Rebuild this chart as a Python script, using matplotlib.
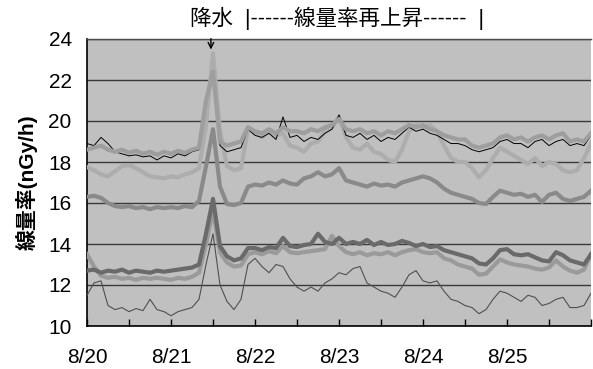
import numpy as np
import matplotlib
matplotlib.use("Agg")
import matplotlib.pyplot as plt

# Time axis: hours since 8/20 00:00, every 2 hours
hours = np.arange(0, 145, 2)

day_labels = ["8/20", "8/21", "8/22", "8/23", "8/24", "8/25", ""]

# Dose rate series (nGy/h)
st_black = [18.9, 18.8, 19.2, 18.9, 18.5, 18.4, 18.3, 18.35, 18.25, 18.3, 18.1, 18.3,
            18.2, 18.4, 18.3, 18.5, 18.6, 20.8, 22.2, 18.8, 18.5, 18.6, 18.7, 19.6,
            19.3, 19.2, 19.4, 19.1, 20.2, 19.2, 19.3, 19.0, 19.2, 19.1, 19.4, 19.6,
            20.3, 19.3, 19.2, 19.4, 19.1, 19.3, 19.0, 19.2, 19.1, 19.4, 19.7, 19.5,
            19.6, 19.4, 19.3, 19.1, 18.9, 18.9, 18.8, 18.6, 18.5, 18.6, 18.7, 19.0,
            19.1, 18.9, 18.9, 18.7, 19.0, 19.1, 18.8, 19.0, 19.1, 18.8, 18.9, 18.8, 19.3]

st_upper = [18.6, 18.7, 18.8, 18.6, 18.5, 18.6, 18.45, 18.55, 18.4, 18.5, 18.35, 18.5,
            18.4, 18.55, 18.45, 18.6, 18.7, 21.0, 22.4, 19.0, 18.8, 18.9, 19.0, 19.7,
            19.5, 19.4, 19.6, 19.4, 19.7, 19.5, 19.5, 19.4, 19.6, 19.5, 19.7, 19.8,
            20.1, 19.6, 19.5, 19.6, 19.4, 19.5, 19.3, 19.5, 19.4, 19.6, 19.8, 19.7,
            19.8, 19.6, 19.5, 19.3, 19.2, 19.1, 19.1, 18.8, 18.7, 18.8, 18.9, 19.2,
            19.3, 19.1, 19.2, 19.0, 19.2, 19.3, 19.1, 19.3, 19.4, 19.0, 19.1, 19.0, 19.4]

st_light = [17.75, 17.6, 17.4, 17.3, 17.55, 17.8, 17.85, 17.7, 17.5, 17.3, 17.25, 17.2,
            17.3, 17.25, 17.4, 17.5, 17.7, 19.8, 23.3, 19.5, 17.8, 17.6, 17.7, 19.6,
            19.4, 19.2, 19.5, 19.3, 19.4, 18.8, 18.7, 18.5, 18.9, 19.0, 19.5, 19.7,
            20.2, 19.2, 18.7, 18.6, 18.9, 18.5, 18.4, 18.1, 18.0, 18.6, 19.5, 19.8,
            19.7, 19.8, 19.5, 18.8, 18.2, 18.0, 18.0, 17.7, 17.25, 17.6, 18.2, 18.7,
            18.5, 18.3, 18.1, 17.9, 18.2, 17.8, 18.0, 17.9, 17.6, 17.5, 17.6, 18.2, 18.9]

st_mid = [16.3, 16.35, 16.25, 16.0, 15.85, 15.8, 15.85, 15.75, 15.8, 15.7, 15.8, 15.75,
          15.8, 15.75, 15.85, 15.8, 16.1, 17.8, 19.6, 16.8, 15.95, 15.9, 16.0, 16.8,
          16.9, 16.85, 17.0, 16.9, 17.1, 16.95, 16.9, 17.2, 17.3, 17.5, 17.3, 17.4,
          17.7, 17.1, 17.0, 16.9, 16.8, 16.95, 16.85, 16.9, 16.8, 17.0, 17.1, 17.2,
          17.3, 17.2, 17.0, 16.7, 16.5, 16.4, 16.3, 16.2, 16.0, 15.95, 16.3, 16.6,
          16.5, 16.4, 16.45, 16.3, 16.4, 16.05, 16.4, 16.5, 16.2, 16.1, 16.2, 16.3, 16.6]

st_dark = [12.7, 12.75, 12.6, 12.7, 12.65, 12.75, 12.6, 12.7, 12.65, 12.6, 12.7, 12.65,
           12.7, 12.75, 12.8, 12.85, 13.0, 14.5, 16.2, 13.9, 13.4, 13.2, 13.3, 13.8,
           13.8, 13.7, 13.85, 13.8, 14.3, 13.9, 13.85, 13.95, 14.0, 14.5, 14.1, 14.0,
           14.3, 14.0, 14.1, 14.0, 14.2, 13.95, 14.1, 13.95, 14.0, 14.15, 14.05, 13.9,
           14.0, 13.85, 13.9, 13.7, 13.6, 13.5, 13.4, 13.3, 13.05, 13.0, 13.3, 13.7,
           13.75, 13.5, 13.45, 13.5, 13.35, 13.2, 13.15, 13.6, 13.45, 13.2, 13.1, 13.0, 13.5]

st_grey = [13.5, 12.9, 12.45, 12.35, 12.4, 12.3, 12.35, 12.25, 12.35, 12.3, 12.35, 12.3,
           12.25, 12.35, 12.3, 12.4, 12.6, 14.0, 15.6, 13.6, 13.1, 12.9, 12.95, 13.5,
           13.6, 13.5, 13.65, 13.55, 13.9, 13.6, 13.55, 13.6, 13.65, 13.7, 13.75, 14.4,
           13.9, 13.6, 13.5, 13.6, 13.45, 13.55, 13.5, 13.6, 13.45, 13.6, 13.7, 13.75,
           13.6, 13.55, 13.6, 13.3, 13.2, 13.0, 12.9, 12.8, 12.5, 12.55, 12.9, 13.25,
           13.1, 13.0, 12.95, 12.9, 12.8, 12.75, 12.85, 13.2, 12.9, 12.7, 12.6, 12.75, 13.5]

st_low = [11.5, 12.1, 12.2, 11.0, 10.8, 10.9, 10.7, 10.85, 10.75, 11.3, 10.8, 10.7,
          10.5, 10.7, 10.8, 10.9, 11.3, 13.0, 14.5, 12.0, 11.2, 10.8, 11.3, 13.0,
          13.3, 12.9, 12.6, 13.0, 12.9, 12.3, 11.9, 11.7, 11.9, 11.7, 12.1, 12.3,
          12.6, 12.5, 12.8, 12.9, 12.1, 11.9, 11.7, 11.6, 11.4, 11.9, 12.5, 12.7,
          12.2, 12.1, 12.2, 11.7, 11.3, 11.2, 11.0, 10.9, 10.6, 10.8, 11.3, 11.7,
          11.6, 11.4, 11.2, 11.5, 11.4, 11.0, 11.1, 11.3, 11.4, 10.9, 10.9, 11.0, 11.6]

rain_hour = 35.4

plt.rcParams["font.family"] = ["Liberation Sans", "Noto Sans CJK JP"]

fig = plt.figure(figsize=(5.93, 3.69), dpi=100)
W, H = 593, 369
ax = fig.add_axes([87 / W, 1 - 326 / H, (591 - 87) / W, (326 - 39) / H])
ax.set_facecolor("#c0c0c0")

ax.plot(hours, st_mid, color="#8a8a8a", lw=3.0, zorder=3)
ax.plot(hours, st_light, color="#adadad", lw=3.0, zorder=3)
ax.plot(hours, st_black, color="#000000", lw=0.7, zorder=3)
ax.plot(hours, st_upper, color="#9e9e9e", lw=3.0, zorder=4)
ax.plot(hours, st_grey, color="#9a9a9a", lw=3.0, zorder=4)
ax.plot(hours, st_dark, color="#6a6a6a", lw=3.0, zorder=5)
ax.plot(hours, st_low, color="#505050", lw=0.8, zorder=6)

ax.set_xlim(0, 144)
ax.set_ylim(10, 24)
ax.set_yticks(np.arange(10, 25, 2))
ax.yaxis.grid(True, color="#3a3a3a", lw=1.0)
ax.set_axisbelow(True)

ax.set_xticks(np.arange(0, 145, 24))
ax.set_xticklabels(day_labels)
ax.set_xticks(np.arange(12, 145, 24), minor=True)
ax.tick_params(axis="x", which="both", direction="in", length=5, width=1,
               color="#000000", pad=16, labelsize=15)
ax.tick_params(axis="y", length=0, pad=11, labelsize=15)

for side in ("left", "bottom"):
    ax.spines[side].set_color("#000000")
    ax.spines[side].set_linewidth(1.2)
ax.spines["top"].set_color("#4a4a4a")
ax.spines["top"].set_linewidth(1.0)
ax.spines["right"].set_visible(False)

ax.set_ylabel("線量率(nGy/h)", fontsize=15, fontweight="bold", labelpad=8)

# rainfall marker
ax.annotate("", xy=(rain_hour, 23.35), xytext=(rain_hour, 24.15),
            arrowprops=dict(arrowstyle="->", color="#000000", lw=1.0,
                            mutation_scale=10),
            annotation_clip=False)

fig.text(190 / W, 1 - 18 / H, "降水  |------線量率再上昇------  |",
         fontsize=15.5, ha="left", va="center")

fig.savefig("out.png", dpi=100, facecolor="white")
